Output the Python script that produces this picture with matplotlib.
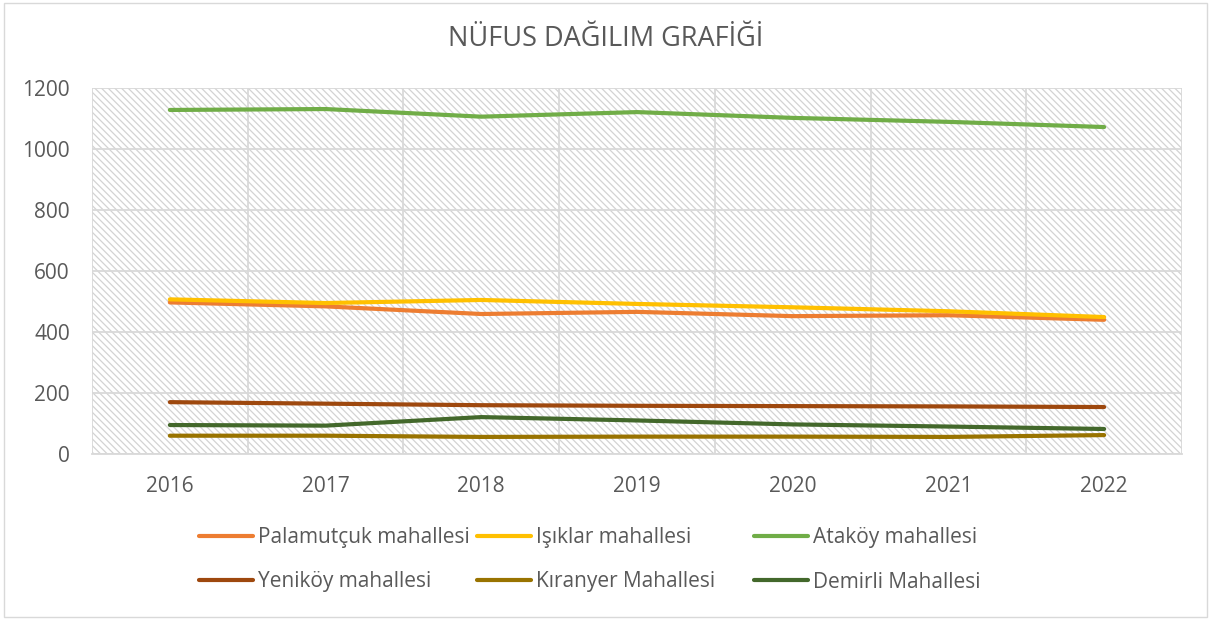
import matplotlib.pyplot as plt
import numpy as np
from matplotlib.patches import Rectangle

years = ['2016', '2017', '2018', '2019', '2020', '2021', '2022']

palamutcuk = [497, 484, 459, 466, 452, 455, 440]
isiklar    = [507, 495, 505, 492, 481, 468, 449]
atakoy     = [1128, 1131, 1106, 1121, 1102, 1089, 1072]
yenikoy    = [170, 165, 160, 158, 157, 156, 154]
kiranyer   = [60, 60, 56, 57, 57, 56, 62]
demirli    = [95, 93, 121, 110, 97, 90, 82]

names  = ['Palamutçuk mahallesi', 'Işıklar mahallesi', 'Ataköy mahallesi',
          'Yeniköy mahallesi', 'Kıranyer Mahallesi', 'Demirli Mahallesi']
series = [palamutcuk, isiklar, atakoy, yenikoy, kiranyer, demirli]
colors = ['#ED7D31', '#FFC000', '#70AD47', '#9E480E', '#997300', '#43682B']

plt.rcParams['font.family'] = ['Open Sans', 'DejaVu Sans']
plt.rcParams['hatch.linewidth'] = 0.9

fig = plt.figure(figsize=(12.11, 6.2), dpi=100)
ax = fig.add_axes([92/1211, 1-454/620, 1090/1211, 366/620])

x = np.arange(len(years))

# hatched plot background
ax.add_patch(Rectangle((0, 0), 1, 1, transform=ax.transAxes, facecolor='white',
                       edgecolor='#d3d3d3', hatch='\\' * 5, linewidth=0, zorder=0))

lines = []
for vals, col, nm in zip(series, colors, names):
    ln, = ax.plot(x, vals, color=col, linewidth=3, solid_capstyle='round', label=nm, zorder=3)
    lines.append(ln)

ax.set_xlim(-0.5, 6.5)
ax.set_ylim(0, 1200)
ax.set_yticks(range(0, 1201, 200))
ax.set_xticks(x)
ax.set_xticklabels(years)
ax.set_xticks(np.arange(-0.5, 6.6, 0.5), minor=True)
ax.grid(True, axis='y', color='#d9d9d9', linewidth=1.3, zorder=1)
ax.grid(True, axis='x', which='minor', color='#d9d9d9', linewidth=1.3, zorder=1)
ax.tick_params(axis='both', which='both', length=0, labelsize=15, labelcolor='#595959')
ax.tick_params(axis='x', pad=16)
ax.tick_params(axis='y', pad=16)
for s in ['top', 'right', 'left']:
    ax.spines[s].set_visible(False)
ax.spines['bottom'].set_color('#d9d9d9')
ax.spines['bottom'].set_linewidth(1.3)
ax.set_axisbelow(True)

fig.text(0.5, 1-39/620, 'NÜFUS DAĞILIM GRAFİĞİ', ha='center', va='center',
         fontsize=19.5, color='#595959')

# legend: 3 columns x 2 rows, equal column widths like the original
col_x = [199, 477, 754]
row_y = [538, 582]
for i, (ln, nm) in enumerate(zip(lines, names)):
    leg = fig.legend([ln], [nm], loc='center left',
                     bbox_to_anchor=(col_x[i % 3]/1211, 1-row_y[i // 3]/620),
                     frameon=False, fontsize=15, handlelength=2.6, handletextpad=0.24,
                     borderpad=0, borderaxespad=0)
    leg.get_texts()[0].set_color('#595959')

fig.add_artist(Rectangle((4/1211, 3/620), 1203/1211, 614/620, transform=fig.transFigure,
                         fill=False, edgecolor='#d9d9d9', linewidth=1))

plt.savefig('out.png', dpi=100)
